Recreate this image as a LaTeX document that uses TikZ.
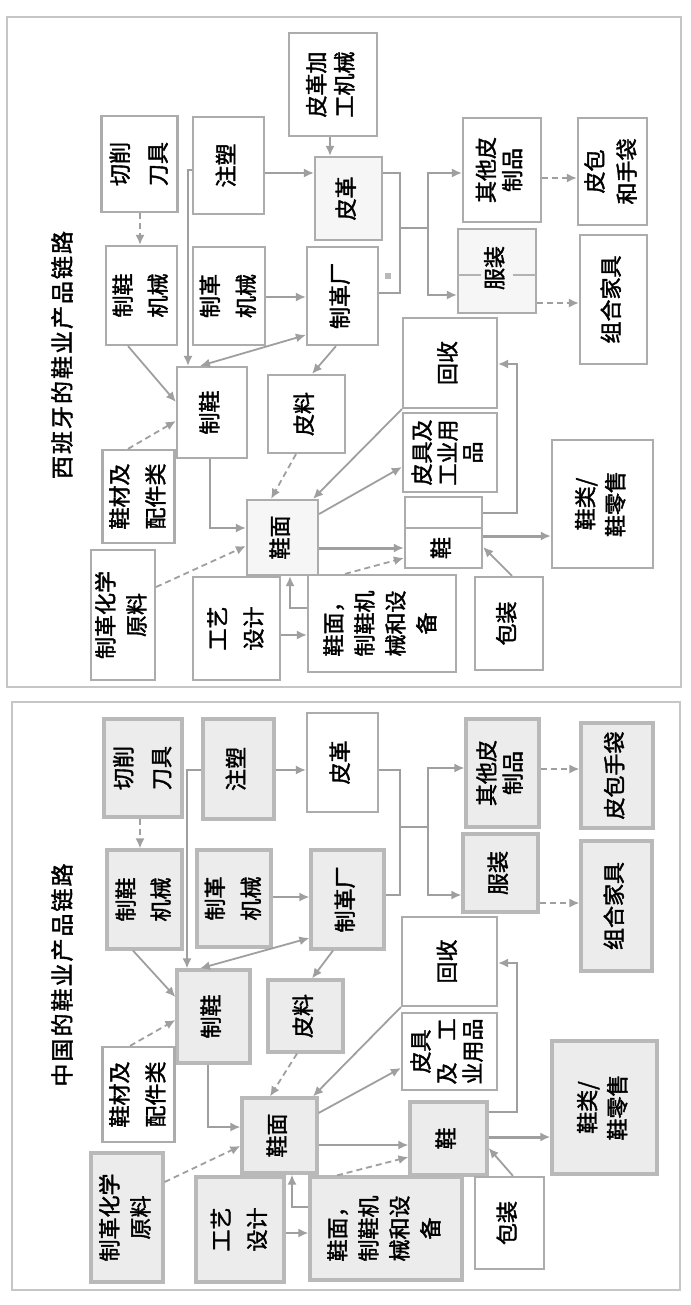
\documentclass[tikz,border=0pt]{standalone}
\usepackage{fontspec}
\setmainfont{Noto Sans CJK SC}[FakeBold=1.8]
\usetikzlibrary{arrows.meta}
% vertical (rotated) multi-line label; optional arg = column pitch in pt
\newcommand\vtext[2][14]{\rotatebox{90}{\fontsize{11}{#1}\selectfont\begin{tabular}{@{}c@{}}#2\end{tabular}}}
% box from pixel corners: \bx[style]{x1}{y1}{x2}{y2}{name}{label}
\newcommand\bx[7][]{\node[box,#1,minimum width={(#4-#2)*0.5pt},minimum height={(#5-#3)*0.5pt}] (#6) at ({(#2+#4)/2},{(#3+#5)/2}) {#7};}
\begin{document}
\begin{tikzpicture}[x=0.5pt,y=-0.5pt,
  box/.style={draw=gray!65,line width=1.1pt,fill=white,inner sep=0pt,text=black},
  sbox/.style={fill=gray!15,draw=gray!55,line width=1.6pt},
  lbox/.style={fill=gray!7},
  frame/.style={draw=gray!45,line width=1.3pt},
  conn/.style={draw=gray!75,line width=0.9pt},
  arr/.style={conn,-{Latex[length=5pt,width=4.5pt]}},
  darr/.style={conn,{Latex[length=5pt,width=4.5pt]}-{Latex[length=5pt,width=4.5pt]}},
  thick arr/.style={arr,line width=1.5pt},
  dsh/.style={dash pattern=on 3pt off 2pt},
  title/.style={inner sep=0pt,font=\fontsize{11.5}{12}\selectfont}]
\useasboundingbox[fill=white] (0,0) rectangle (690,1305);

% ================= upper panel =================
\draw[frame] (7,17) rectangle (681,687);
\node[title] (t1) at (62,355) {\rotatebox{90}{西\kern1pt 班\kern1pt 牙\kern1pt 的\kern1pt 鞋\kern1pt 业\kern1pt 产\kern1pt 品\kern1pt 链\kern1pt 路}};

\bx{289}{33}{377}{136}{A}{\vtext[14]{皮革加\\工机械}}
\bx{104}{116}{175}{212}{B}{\vtext[19]{切削\\刀具}}
\bx{193}{117}{264}{214}{C}{\vtext{注塑}}
\bx[lbox]{315}{157}{382}{240}{D}{\vtext{皮革}}
\bx{106}{246}{177}{345}{E}{\vtext[17.5]{制鞋\\机械}}
\bx{193}{247}{265}{345}{F}{\vtext[18]{制革\\机械}}
\bx{307}{247}{378}{345}{G}{\vtext{制革厂}}
\bx{463}{118}{541}{222}{H}{\vtext[13]{其他皮\\制品}}
\bx[lbox]{458}{229}{536}{313}{H2}{}
\bx{578}{118}{647}{225}{I}{\vtext[16]{皮包\\和手袋}}
\bx{580}{235}{647}{364}{J}{\vtext{组合家具}}
\bx{177}{367}{247}{458}{K}{\vtext{制鞋}}
\bx{268}{375}{345}{453}{L}{\vtext{皮料}}
\bx{104}{450}{173}{543}{M}{\vtext[18]{鞋材及\\配件类}}
\bx[lbox]{247}{500}{318}{575}{N}{\vtext{鞋面}}
\bx{91}{550}{155}{680}{O}{\vtext[15.5]{制革化学\\原料}}
\bx{193}{577}{280}{680}{P}{\vtext[18]{工艺\\设计}}
\bx{308}{575}{456}{672}{Q}{\vtext[15.5]{鞋面，\\制鞋机\\械和设\\备}}
\bx{405}{497}{482}{528}{R0}{}
\bx{405}{528}{482}{568}{R}{\vtext{鞋}}
\bx{403}{413}{497}{492}{S}{\vtext[12.5]{皮具及\\工业用\\品}}
\bx{403}{318}{497}{408}{T}{\vtext{回收}}
\bx{475}{577}{543}{670}{U}{\vtext{包装}}
\bx{552}{440}{653}{568}{V}{\vtext[15]{鞋类/\\鞋零售}}
% divider inside the garment box, broken by its label
\draw[gray!60,line width=1pt] (H2.west |- 0,275) -- (H2.east |- 0,275);
\node[fill=gray!7,inner sep=1pt] (H2t) at (497,268) {\vtext{服装}};
\node[fill=gray!55,minimum size=3pt,inner sep=0pt] (mk1) at (388,276) {};

\draw[arr,dsh] (B.south -| 140,0) -- (E.north -| 140,0);
\draw[arr] (C.east |- 0,173) -- (D.west |- 0,173);
\draw[arr] (A.south -| 330,0) -- (D.north -| 330,0);
\draw[arr] (C.west |- 0,170) -- (188,170) -- (K.north -| 188,0);
\draw[arr] (E.south -| 128,0) -- (K.west |- 0,402);
\draw[darr] (K.north -| 200,0) -- (G.west |- 0,335);
\draw[arr] (F.east |- 0,297) -- (G.west |- 0,297);
\draw[arr] (G.south -| 336,0) -- (L.north -| 312,0);
\draw[conn] (D.east |- 0,173) -- (400,173) -- (400,293) -- (G.east |- 0,293);
\draw[conn] (400,228) -- (428,228);
\draw[arr] (428,228) |- (H.west |- 0,173);
\draw[arr] (428,228) |- (H2.west |- 0,295);
\draw[arr,dsh] (H.east |- 0,178) -- (I.west |- 0,178);
\draw[arr,dsh] (H2.east |- 0,303) -- (J.west |- 0,303);
\draw[arr] (K.south -| 210,0) |- (N.west |- 0,528);
\draw[arr,dsh] (L.south -| 296,0) -- (N.north -| 271,0);
\draw[arr] (T.south west) -- (N.north -| 313,0);
\draw[arr,dsh] (M.north -| 128,0) -- (K.west |- 0,421);
\draw[arr,dsh] (O.east |- 0,587) -- (N.west |- 0,546);
\draw[arr] (N.east |- 0,514) -- (S.west |- 0,467);
\draw[thick arr] (N.east |- 0,548) -- (R.west |- 0,548);
\draw[arr,dsh] (Q.north -| 345,0) -- (R.west |- 0,558);
\draw[arr] (Q.west |- 0,608) -- (290,608) -- (N.south -| 290,0);
\draw[arr] (P.east |- 0,635) -- (Q.west |- 0,635);
\draw[arr] (U.north -| 512,0) -- (R.east |- 0,547);
\draw[thick arr] (R.east |- 0,536) -- (V.west |- 0,536);
\draw[arr] (R0.east |- 0,513) -- (517,513) -- (517,364) -- (T.east |- 0,364);

% ================= lower panel =================
\draw[frame] (12,702) rectangle (680,1290);
\node[title] (t2) at (62,975) {\rotatebox{90}{中\kern1pt 国\kern1pt 的\kern1pt 鞋\kern1pt 业\kern1pt 产\kern1pt 品\kern1pt 链\kern1pt 路}};

\bx[sbox]{104}{719}{182}{817}{B2}{\vtext[19]{切削\\刀具}}
\bx[sbox]{203}{719}{274}{819}{C2}{\vtext{注塑}}
\bx{307}{713}{378}{812}{D2}{\vtext{皮革}}
\bx[sbox]{107}{850}{182}{949}{E2}{\vtext[17.5]{制鞋\\机械}}
\bx[sbox]{197}{850}{271}{947}{F2}{\vtext[18]{制革\\机械}}
\bx[sbox]{311}{850}{384}{949}{G2}{\vtext{制革厂}}
\bx[sbox]{466}{719}{539}{827}{H3}{\vtext[13]{其他皮\\制品}}
\bx[sbox]{463}{834}{538}{912}{H4}{\vtext{服装}}
\bx[sbox]{581}{723}{653}{828}{I2}{\vtext{皮包手袋}}
\bx[sbox]{581}{841}{652}{971}{J2}{\vtext{组合家具}}
\bx[sbox]{177}{970}{250}{1063}{K2}{\vtext{制鞋}}
\bx[sbox]{268}{980}{343}{1052}{L2}{\vtext{皮料}}
\bx{104}{1047}{173}{1142}{M2}{\vtext[18]{鞋材及\\配件类}}
\bx[sbox]{242}{1098}{317}{1173}{N2}{\vtext{鞋面}}
\bx[sbox]{91}{1153}{163}{1282}{O2}{\vtext[15.5]{制革化学\\原料}}
\bx[sbox]{196}{1177}{284}{1282}{P2}{\vtext[18]{工艺\\设计}}
\bx[sbox]{310}{1177}{462}{1280}{Q2}{\vtext[15.5]{鞋面，\\制鞋机\\械和设\\备}}
\bx[sbox]{410}{1102}{487}{1175}{R2}{\vtext{鞋}}
\bx{402}{1013}{497}{1090}{S2}{\vtext[13]{皮具\\及\hspace{11pt}工\\业用品}}
\bx{402}{917}{497}{1006}{T2}{\vtext{回收}}
\bx{475}{1177}{544}{1269}{U2}{\vtext{包装}}
\bx[sbox]{552}{1041}{657}{1174}{V2}{\vtext[15]{鞋类/\\鞋零售}}

\draw[arr,dsh] (B2.south -| 140,0) -- (E2.north -| 140,0);
\draw[arr] (C2.east |- 0,770) -- (D2.west |- 0,770);
\draw[arr] (C2.west |- 0,770) -- (187,770) -- (K2.north -| 187,0);
\draw[arr] (E2.south -| 133,0) -- (K2.west |- 0,997);
\draw[arr] (F2.east |- 0,897) -- (G2.west |- 0,897);
\draw[darr] (K2.north -| 200,0) -- (G2.west |- 0,938);
\draw[arr] (G2.south -| 333,0) -- (L2.north -| 312,0);
\draw[conn] (D2.east |- 0,770) -- (400,770) -- (400,895) -- (G2.east |- 0,895);
\draw[conn] (400,827) -- (428,827);
\draw[arr] (428,827) |- (H3.west |- 0,768);
\draw[arr] (428,827) |- (H4.west |- 0,895);
\draw[arr,dsh] (H3.east |- 0,769) -- (I2.west |- 0,769);
\draw[arr,dsh] (H4.east |- 0,903) -- (J2.west |- 0,903);
\draw[arr] (R2.east |- 0,1112) -- (517,1112) -- (517,963) -- (T2.east |- 0,963);
\draw[arr] (T2.south west) -- (N2.north -| 313,0);
\draw[arr] (N2.east |- 0,1113) -- (S2.west |- 0,1068);
\draw[arr] (K2.south -| 208,0) |- (N2.west |- 0,1127);
\draw[arr,dsh] (L2.south -| 297,0) -- (N2.north -| 270,0);
\draw[arr,dsh] (M2.north -| 130,0) -- (K2.west |- 0,1020);
\draw[arr,dsh] (O2.east |- 0,1182) -- (N2.west |- 0,1146);
\draw[arr] (N2.east |- 0,1145) -- (R2.west |- 0,1145);
\draw[arr,dsh] (Q2.north -| 337,0) -- (R2.west |- 0,1157);
\draw[arr] (Q2.west |- 0,1207) -- (292,1207) -- (N2.south -| 292,0);
\draw[arr] (P2.east |- 0,1233) -- (Q2.west |- 0,1233);
\draw[arr] (U2.north -| 513,0) -- (R2.east |- 0,1148);
\draw[thick arr] (R2.east |- 0,1137) -- (V2.west |- 0,1137);
\end{tikzpicture}
\end{document}
